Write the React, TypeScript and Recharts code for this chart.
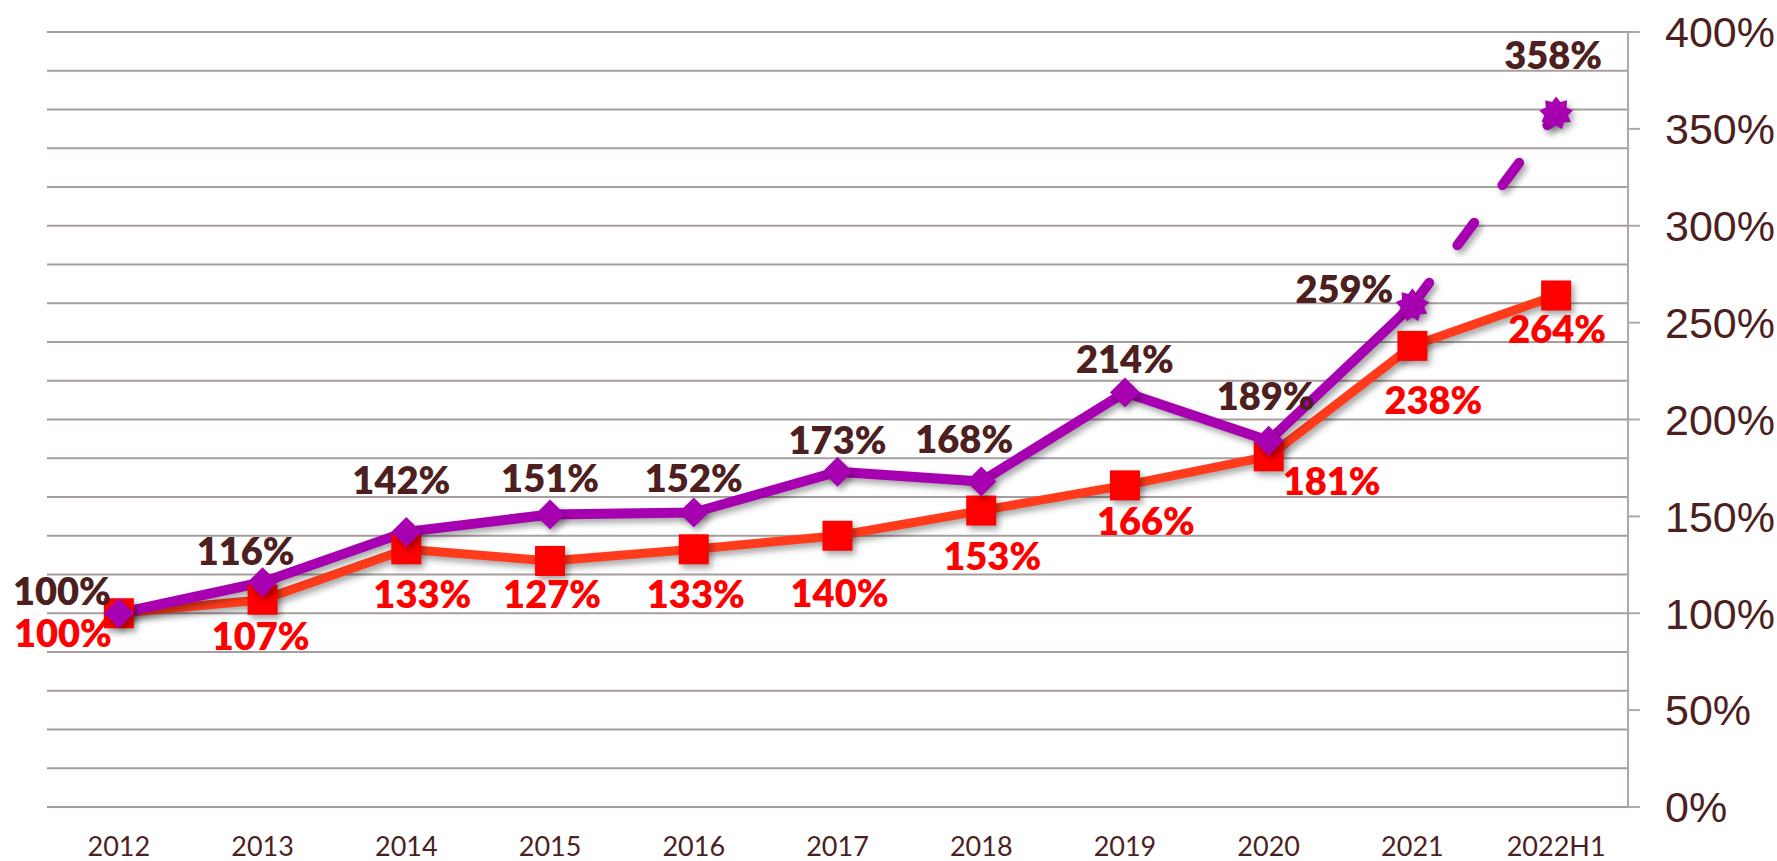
import { CartesianGrid, LabelList, Line, LineChart, XAxis, YAxis } from "recharts";

const years = ["2012", "2013", "2014", "2015", "2016", "2017", "2018", "2019", "2020", "2021", "2022H1"];
const purpleValues = [100, 116, 142, 151, 152, 173, 168, 214, 189, 259, 358];
const redValues = [100, 107, 133, 127, 133, 140, 153, 166, 181, 238, 264];
const yTicks = [0, 50, 100, 150, 200, 250, 300, 350, 400];
const gridValues = [0, 20, 40, 60, 80, 100, 120, 140, 160, 180, 200, 220, 240, 260, 280, 300, 320, 340, 360, 380, 400];
// purple line turns dashed (projection) from this index on
const DASH_FROM = 9;

// label nudges (dx, baseline dy) relative to each point, as placed in the original
const purpleLabelShift = [[-57, -8], [-17, -17], [-5, -38], [0, -22], [0, -21], [0, -18], [-17, -29], [0, -19], [-3, -31], [-68, -2], [-3, -44]];
const redLabelShift = [[-56, 34], [-2, 50], [16, 59], [2, 47], [2, 59], [2, 71], [11, 59], [21, 50], [63, 39], [21, 68], [1, 47]];

const PURPLE = "#a700b0";
const RED_LINE = "#ff3b1b";
const RED_MARK = "#ff0000";
const BROWN = "#4d1f1f";
const GRID = "#a69e9e";

const data = years.map((year, i) => ({
  year,
  red: redValues[i],
  purple: i <= DASH_FROM ? purpleValues[i] : null,
  purpleProj: i >= DASH_FROM ? purpleValues[i] : null,
}));

const starPoints = (cx: number, cy: number) => {
  const pts: string[] = [];
  const spikes = 9;
  for (let k = 0; k < spikes * 2; k++) {
    const r = k % 2 === 0 ? 17 : 12;
    const a = (Math.PI * k) / spikes - Math.PI / 2;
    pts.push(`${cx + r * Math.cos(a)},${cy + r * Math.sin(a)}`);
  }
  return pts.join(" ");
};

const PurpleDot = (props: any) => {
  const { cx, cy, index } = props;
  if (cx == null || cy == null || props.value == null) return <g key={`pd-${index}`} />;
  if (index >= DASH_FROM) {
    return <polygon key={`pd-${index}`} points={starPoints(cx, cy)} fill={PURPLE} />;
  }
  const r = 15;
  return (
    <path
      key={`pd-${index}`}
      d={`M${cx},${cy - r} L${cx + r},${cy} L${cx},${cy + r} L${cx - r},${cy} Z`}
      fill={PURPLE}
    />
  );
};

const ProjDot = (props: any) => {
  const { cx, cy, index } = props;
  if (cx == null || cy == null || index <= DASH_FROM) return <g key={`pp-${index}`} />;
  return <polygon key={`pp-${index}`} points={starPoints(cx, cy)} fill={PURPLE} />;
};

const RedDot = (props: any) => {
  const { cx, cy, index } = props;
  if (cx == null || cy == null) return <g key={`rd-${index}`} />;
  return <rect key={`rd-${index}`} x={cx - 15} y={cy - 15} width={30} height={30} fill={RED_MARK} />;
};

const makeLabel = (shift: number[][], color: string, skip: (i: number) => boolean) => (props: any) => {
  const { x, y, value, index } = props;
  if (value == null || x == null || y == null || skip(index)) return null;
  const [dx, dy] = shift[index];
  return (
    <text
      x={x + dx}
      y={y + dy}
      textAnchor="middle"
      fill={color}
      fontFamily="Lato, 'Open Sans', sans-serif"
      fontWeight={800}
      fontSize={38}
    >
      {`${value}%`}
    </text>
  );
};

export default function App() {
  return (
    <div style={{ position: "absolute", left: 0, top: 0, width: 1777, height: 861, background: "#fff" }}>
      <style>{`
        .recharts-line-curve, .recharts-line-dots { filter: drop-shadow(3px 4px 3px rgba(0,0,0,0.35)); }
      `}</style>
      <LineChart width={1777} height={861} data={data} margin={{ top: 32, right: 0, bottom: 0, left: 47 }}>
        <CartesianGrid horizontal vertical={false} horizontalValues={gridValues} stroke={GRID} strokeWidth={2} />
        <XAxis
          dataKey="year"
          axisLine={false}
          tickLine={false}
          height={54}
          padding={{ left: 71.85, right: 71.85 }}
          interval={0}
          tickMargin={24}
          tick={{ fill: BROWN, fontSize: 27, fontFamily: "Lato, 'Open Sans', sans-serif" }}
        />
        <YAxis
          orientation="right"
          domain={[0, 400]}
          ticks={yTicks}
          interval={0}
          width={149}
          tickFormatter={(v: number) => `${v}%`}
          axisLine={{ stroke: "#b0a8a8", strokeWidth: 2 }}
          tickLine={{ stroke: "#b0a8a8", strokeWidth: 2 }}
          tickSize={12}
          tickMargin={25}
          tick={{ fill: BROWN, fontSize: 43, fontFamily: "'Liberation Sans', Arial, sans-serif" }}
        />
        <Line
          dataKey="red"
          stroke={RED_LINE}
          strokeWidth={9}
          strokeLinejoin="round"
          dot={RedDot}
          activeDot={false}
          isAnimationActive={false}
        >
          <LabelList dataKey="red" content={makeLabel(redLabelShift, RED_MARK, () => false)} />
        </Line>
        <Line
          dataKey="purple"
          stroke={PURPLE}
          strokeWidth={10}
          strokeLinejoin="round"
          dot={PurpleDot}
          activeDot={false}
          connectNulls={false}
          isAnimationActive={false}
        >
          <LabelList dataKey="purple" content={makeLabel(purpleLabelShift, BROWN, () => false)} />
        </Line>
        <Line
          dataKey="purpleProj"
          stroke={PURPLE}
          strokeWidth={10}
          strokeDasharray="28 47"
          strokeLinecap="round"
          dot={ProjDot}
          activeDot={false}
          isAnimationActive={false}
        >
          <LabelList dataKey="purpleProj" content={makeLabel(purpleLabelShift, BROWN, (i) => i <= DASH_FROM)} />
        </Line>
      </LineChart>
    </div>
  );
}
